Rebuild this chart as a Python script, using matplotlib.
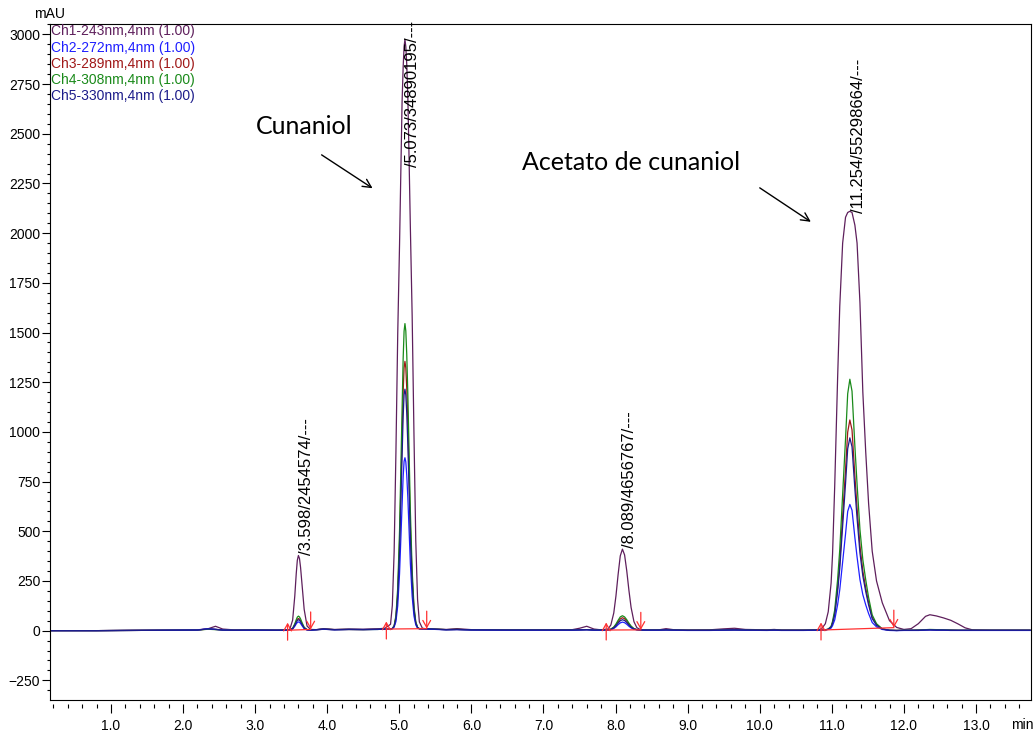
import numpy as np
import matplotlib.pyplot as plt
from matplotlib.ticker import MultipleLocator, FixedLocator

plt.rcParams['font.family'] = ['Liberation Sans', 'DejaVu Sans']

# retention time grid (min), split by region of the run
t_base1 = [0.15, 0.8, 1.3, 1.8, 2.2, 2.35, 2.45, 2.55, 2.7, 3.0, 3.3]
t_p1 = [3.45, 3.48, 3.52, 3.55, 3.57, 3.585, 3.6, 3.615, 3.63, 3.65, 3.68, 3.72, 3.77, 3.85]
t_base2 = [3.95, 4.1, 4.3, 4.5, 4.7, 4.8]
t_p2 = [4.878, 4.903, 4.928, 4.953, 4.978, 5.003, 5.023, 5.038, 5.053, 5.066, 5.078,
        5.09, 5.103, 5.118, 5.133, 5.153, 5.178, 5.203, 5.228, 5.253, 5.278, 5.32, 5.38]
t_base3 = [5.5, 5.65, 5.8, 6.0, 6.5, 7.0, 7.4, 7.5, 7.6, 7.7, 7.8]
t_p3 = [7.895, 7.935, 7.975, 8.005, 8.035, 8.065, 8.095, 8.125, 8.155, 8.185, 8.215, 8.255, 8.295, 8.345]
t_base4 = [8.45, 8.6, 8.7, 8.8, 9.0, 9.3, 9.5, 9.65, 9.8, 10.1, 10.2, 10.3, 10.6, 10.8]
t_p4 = [10.86, 10.91, 10.95, 10.99, 11.01, 11.04, 11.08, 11.11, 11.15, 11.19, 11.22, 11.25,
        11.28, 11.32, 11.35, 11.39, 11.43, 11.47, 11.51, 11.56, 11.62, 11.7, 11.8, 11.9, 12.0]
t_tail = [12.1, 12.2, 12.3, 12.36, 12.45, 12.55, 12.65, 12.75, 12.85, 12.95, 13.2, 13.75]
time = t_base1 + t_p1 + t_base2 + t_p2 + t_base3 + t_p3 + t_base4 + t_p4 + t_tail

# mAU values
ch1 = ([0, 0, 2, 3, 4, 10, 22, 8, 4, 4, 3]
       + [3, 6, 53, 175, 287, 354, 378, 363, 318, 231, 107, 23, 6, 5]
       + [10, 6, 8, 7, 9, 12]
       + [32, 127, 395, 901, 1496, 1942, 2358, 2656, 2834, 2938, 2975,
          2938, 2849, 2686, 2418, 2031, 1585, 990, 454, 157, 44, 12, 9]
       + [8, 6, 10, 5, 4, 4, 5, 12, 22, 8, 4]
       + [8, 29, 89, 174, 282, 376, 410, 381, 301, 203, 117, 45, 15, 5]
       + [3, 4, 10, 5, 3, 4, 9, 12, 6, 4, 6, 3, 3, 3]
       + [10, 35, 95, 240, 385, 729, 1269, 1632, 1950, 2080, 2104, 2110,
          2104, 2040, 1950, 1650, 1200, 900, 640, 400, 250, 140, 50, 16, 6]
       + [10, 35, 72, 80, 74, 64, 52, 34, 14, 4, 2, 2])
ch2 = ([0, 0, 1, 2, 3, 10, 6, 3, 2, 2, 2]
       + [2, 3, 8, 22, 34, 41, 44, 42, 36, 25, 10, 3, 2, 4]
       + [7, 4, 6, 5, 6, 8]
       + [8, 10, 18, 46, 125, 286, 487, 643, 774, 852, 870,
          849, 783, 670, 531, 339, 173, 74, 29, 13, 9, 8, 8]
       + [6, 4, 5, 3, 2, 2, 2, 3, 4, 2, 2]
       + [3, 5, 11, 19, 30, 39, 43, 40, 32, 22, 14, 7, 4, 3]
       + [2, 2, 3, 2, 1, 1, 2, 3, 2, 1, 2, 1, 1, 2]
       + [3, 4, 6, 13, 25, 54, 130, 206, 346, 486, 600, 635,
          606, 467, 371, 257, 181, 130, 86, 41, 19, 6, 1, 0, 1]
       + [1, 1, 2, 3, 2, 2, 1, 1, 1, 1, 1, 1])
ch3 = ([0, 0, 1, 2, 3, 8, 6, 3, 2, 3, 2]
       + [3, 4, 10, 30, 46, 57, 61, 58, 49, 34, 14, 5, 3, 5]
       + [7, 5, 6, 5, 7, 8]
       + [8, 11, 23, 68, 191, 442, 753, 997, 1200, 1322, 1355,
          1322, 1220, 1043, 827, 528, 265, 111, 41, 16, 10, 9, 9]
       + [7, 5, 6, 4, 3, 3, 3, 4, 5, 3, 3]
       + [4, 7, 16, 29, 45, 59, 65, 60, 48, 33, 20, 9, 5, 3]
       + [3, 3, 4, 3, 2, 2, 3, 4, 3, 2, 3, 2, 2, 3]
       + [3, 4, 7, 19, 40, 88, 215, 342, 575, 809, 999, 1060,
          1010, 777, 618, 427, 300, 215, 141, 67, 30, 8, 2, 1, 2]
       + [2, 3, 4, 5, 4, 3, 3, 2, 2, 2, 2, 2])
ch4 = ([0, 0, 1, 2, 3, 7, 5, 3, 2, 3, 2]
       + [3, 4, 12, 35, 55, 68, 73, 69, 59, 41, 17, 5, 3, 5]
       + [7, 5, 6, 5, 6, 8]
       + [8, 11, 25, 76, 217, 502, 858, 1136, 1368, 1507, 1545,
          1508, 1390, 1190, 942, 603, 302, 125, 45, 17, 10, 9, 9]
       + [7, 5, 6, 4, 3, 3, 3, 4, 5, 3, 3]
       + [4, 8, 18, 33, 52, 69, 75, 69, 55, 38, 23, 10, 5, 3]
       + [3, 3, 4, 3, 2, 2, 3, 4, 3, 2, 3, 2, 2, 3]
       + [3, 4, 8, 22, 47, 104, 256, 408, 686, 964, 1192, 1265,
          1205, 926, 737, 509, 357, 256, 167, 79, 35, 9, 2, 1, 2]
       + [2, 3, 5, 6, 5, 4, 3, 2, 2, 2, 2, 2])
ch5 = ([0, 0, 1, 2, 3, 9, 7, 3, 2, 3, 2]
       + [3, 4, 10, 27, 42, 51, 55, 52, 45, 31, 13, 4, 3, 5]
       + [8, 5, 6, 6, 7, 8]
       + [8, 10, 21, 61, 172, 397, 676, 895, 1077, 1187, 1215,
          1186, 1094, 936, 741, 474, 239, 100, 37, 15, 9, 9, 9]
       + [7, 5, 6, 4, 3, 3, 3, 4, 5, 3, 3]
       + [4, 6, 14, 25, 38, 50, 55, 51, 41, 28, 17, 8, 5, 3]
       + [3, 3, 4, 3, 2, 2, 3, 4, 3, 2, 3, 2, 2, 3]
       + [3, 4, 7, 18, 37, 81, 197, 313, 527, 740, 915, 970,
          925, 711, 566, 391, 275, 197, 129, 61, 27, 8, 2, 1, 2]
       + [2, 2, 3, 4, 3, 3, 2, 2, 2, 2, 2, 2])

channel_names = ['Ch1-243nm,4nm (1.00)', 'Ch2-272nm,4nm (1.00)', 'Ch3-289nm,4nm (1.00)',
                 'Ch4-308nm,4nm (1.00)', 'Ch5-330nm,4nm (1.00)']
channel_colors = ['#5e1f5c', '#1f1fff', '#a01818', '#1a8a1a', '#1c1c8a']

# integrated peaks
peak_rt = [3.598, 5.073, 8.089, 11.254]
peak_area = [2454574, 34890195, 4656767, 55298664]
label_y = [381, 2335, 415, 2102]
peak_start = [3.45, 4.82, 7.87, 10.85]
peak_end = [3.77, 5.38, 8.35, 11.86]
start_level = [2, 8, 3, 3]
end_level = [6, 10, 4, 15]

W, H = 1036, 733
fig = plt.figure(figsize=(W / 100, H / 100), dpi=100)
ax = fig.add_axes([50 / W, 1 - 700 / H, 980.5 / W, 676.5 / H])

series = [ch1, ch2, ch3, ch4, ch5]
for i in [0, 2, 3, 1, 4]:
    ax.plot(time, series[i], color=channel_colors[i], lw=0.9)

red = '#ff3030'
arrow_red = dict(arrowstyle='->,head_length=0.5,head_width=0.28',
                 color=red, lw=0.9, shrinkA=0, shrinkB=0)
for s, e, sl, el in zip(peak_start, peak_end, start_level, end_level):
    ax.plot([s, e], [sl, el], color=red, lw=0.9)
    ax.annotate('', xy=(s, sl + 38), xytext=(s, sl - 50), arrowprops=arrow_red)
    ax.annotate('', xy=(e, el), xytext=(e, el + 88), arrowprops=arrow_red)

for rt, area, ly in zip(peak_rt, peak_area, label_y):
    ax.text(rt + 0.11, ly, f'/{rt:.3f}/{area}/---', rotation=90,
            ha='center', va='bottom', fontsize=12)

# compound annotations
arrow_black = dict(arrowstyle='->,head_length=0.6,head_width=0.3',
                   color='black', lw=1.0, shrinkA=0, shrinkB=0)
ax.text(3.011, 2499, 'Cunaniol', fontsize=18, family='Lato', va='baseline')
ax.annotate('', xy=(4.629, 2226), xytext=(3.922, 2394), arrowprops=arrow_black)
ax.text(6.70, 2318, 'Acetato de cunaniol', fontsize=18, family='Lato', va='baseline')
ax.annotate('', xy=(10.709, 2057), xytext=(10.0, 2228), arrowprops=arrow_black)

ax.set_xlim(0.154, 13.756)
ax.set_ylim(-349, 3055)

ax.xaxis.set_major_locator(FixedLocator(np.arange(1, 14)))
ax.xaxis.set_minor_locator(MultipleLocator(0.2))
ax.xaxis.set_major_formatter(plt.FormatStrFormatter('%.1f'))
ax.yaxis.set_major_locator(FixedLocator(np.arange(-250, 3001, 250)))
ax.yaxis.set_minor_locator(MultipleLocator(50))

ax.tick_params(axis='x', which='major', direction='out', length=6.5, width=0.8, pad=4, labelsize=10)
ax.tick_params(axis='x', which='minor', direction='out', length=3, width=0.8)
ax.tick_params(axis='y', which='major', direction='out', length=6, width=0.8, pad=1, labelsize=10)
ax.tick_params(axis='y', which='minor', direction='out', length=2.5, width=0.8)

for side in ['left', 'top', 'right']:
    ax.spines[side].set_linewidth(0.8)
ax.spines['bottom'].set_position(('outward', 3))
ax.spines['bottom'].set_visible(False)
ax.plot([0, 1], [0, 0], transform=ax.transAxes, color='black', lw=0.8, clip_on=False)

# channel list in the upper-left corner
for i, (name, c) in enumerate(zip(channel_names, channel_colors)):
    fig.text(51 / W, 1 - (35.5 + 16.2 * i) / H, name, color=c, fontsize=10, va='baseline')

fig.text(50 / W, 1 - 18 / H, 'mAU', fontsize=10, ha='center', va='baseline')
fig.text(1022 / W, 1 - 729 / H, 'min', fontsize=10, ha='center', va='baseline')

fig.savefig('out.png', dpi=100)
